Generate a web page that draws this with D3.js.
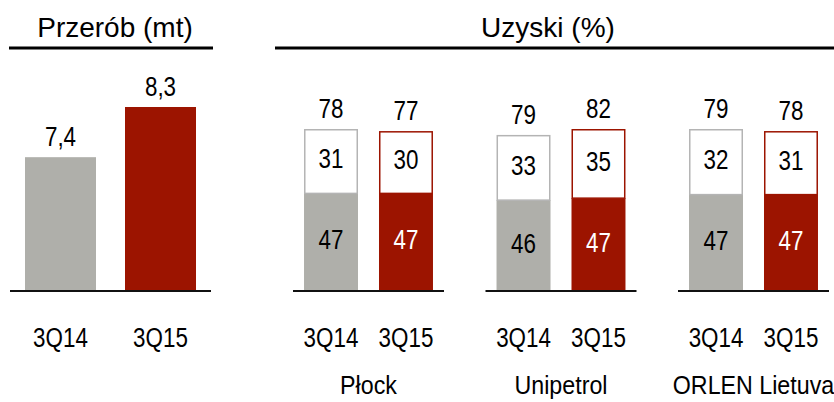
<!DOCTYPE html>
<html>
<head>
<meta charset="utf-8">
<script src="https://cdn.jsdelivr.net/npm/d3@7"></script>
<style>
  body { margin: 0; background: #fff; }
  svg { display: block; }
  text { font-family: "Liberation Sans", Arial, sans-serif; fill: #000; }
  .title { font-size: 28px; }
  .num { font-size: 28px; }
  .name { font-size: 25px; }
</style>
</head>
<body>
<div id="chart"></div>
<script>
// DATA
const periods = ["3Q14", "3Q15"];
const throughput = [7.4, 8.3];
const throughputLabels = ["7,4", "8,3"];
const refineries = ["Płock", "Unipetrol", "ORLEN Lietuva"];
const yieldLight = [[47, 47], [46, 47], [47, 47]];
const yieldOther = [[31, 30], [33, 35], [32, 31]];
const yieldTotal = [[78, 77], [79, 82], [79, 78]];

// COLOURS
const gray = "#afafaa";
const red = "#9c1400";
const grayEdge = "#b4b4b4";

const width = 834, height = 402;
const baseY = 291;
const narrow = 0.8;   // condensed look of the original font

const svg = d3.select("#chart").append("svg")
    .attr("width", width)
    .attr("height", height);

// text placed with a horizontal squeeze
function squeezed(sel, x, y, sx) {
    return sel.attr("text-anchor", "middle")
        .attr("transform", (d, i) => {
            const xx = typeof x === "function" ? x(d, i) : x;
            const yy = typeof y === "function" ? y(d, i) : y;
            return `translate(${xx},${yy}) scale(${sx},1)`;
        });
}

// ----- LEFT PANEL: PRZERÓB -----
svg.append("text").attr("class", "title")
    .attr("x", 115).attr("y", 37).attr("text-anchor", "middle")
    .text("Przerób (mt)");
svg.append("line").attr("x1", 9).attr("x2", 213).attr("y1", 48).attr("y2", 48)
    .attr("stroke", "#000").attr("stroke-width", 3);

const xL = d3.scaleBand().domain(periods).range([10, 211])
    .paddingInner(0.29).paddingOuter(0.15);
const yL = d3.scaleLinear().domain([5, 8.3]).range([baseY, 107]);

svg.selectAll("rect.left")
    .data(throughput)
    .join("rect")
    .attr("class", "left")
    .attr("x", (d, i) => xL(periods[i]))
    .attr("width", xL.bandwidth())
    .attr("y", d => yL(d))
    .attr("height", d => baseY - yL(d))
    .attr("fill", (d, i) => i === 0 ? gray : red);

squeezed(svg.selectAll("text.leftval")
    .data(throughput)
    .join("text")
    .attr("class", "leftval num")
    .text((d, i) => throughputLabels[i]),
    (d, i) => xL(periods[i]) + xL.bandwidth() / 2, d => yL(d) - 11, narrow);

svg.append("line").attr("x1", 10).attr("x2", 211).attr("y1", baseY).attr("y2", baseY)
    .attr("stroke", "#111").attr("stroke-width", 2);

squeezed(svg.selectAll("text.leftcat")
    .data(periods)
    .join("text")
    .attr("class", "leftcat num")
    .text(d => d),
    d => xL(d) + xL.bandwidth() / 2, 347, narrow);

// ----- RIGHT PANEL: UZYSKI -----
svg.append("text").attr("class", "title")
    .attr("x", 548).attr("y", 37).attr("text-anchor", "middle")
    .text("Uzyski (%)");
svg.append("line").attr("x1", 275).attr("x2", 834).attr("y1", 48).attr("y2", 48)
    .attr("stroke", "#000").attr("stroke-width", 3);

const xG = d3.scaleBand().domain(refineries).range([293, 829]).paddingInner(0.2156);
const xP = d3.scaleBand().domain(periods).range([0, xG.bandwidth()])
    .paddingInner(0.28).paddingOuter(0.147);

refineries.forEach((ref, g) => {
    // every refinery gets its own scale, tallest bar reaches the same height
    const y = d3.scaleLinear().domain([0, d3.max(yieldTotal[g])]).range([baseY, 129]);
    const grp = svg.append("g").attr("transform", `translate(${xG(ref)},0)`);

    const rows = periods.map((p, i) => ({
        p, i,
        base: yieldLight[g][i],
        other: yieldOther[g][i],
        total: yieldTotal[g][i]
    }));
    const cx = d => xP(d.p) + xP.bandwidth() / 2;

    // bottom segment
    grp.selectAll("rect.base")
        .data(rows)
        .join("rect")
        .attr("class", "base")
        .attr("x", d => xP(d.p))
        .attr("width", xP.bandwidth())
        .attr("y", d => y(d.base))
        .attr("height", d => baseY - y(d.base))
        .attr("fill", d => d.i === 0 ? gray : red);

    // top segment (white with outline)
    grp.selectAll("rect.top")
        .data(rows)
        .join("rect")
        .attr("class", "top")
        .attr("x", d => xP(d.p) + 0.75)
        .attr("width", xP.bandwidth() - 1.5)
        .attr("y", d => y(d.base + d.other) + 0.75)
        .attr("height", d => y(d.base) - y(d.base + d.other) - 0.75)
        .attr("fill", "#fff")
        .attr("stroke", d => d.i === 0 ? grayEdge : red)
        .attr("stroke-width", 1.5);

    // segment labels
    squeezed(grp.selectAll("text.baseval")
        .data(rows)
        .join("text")
        .attr("class", "baseval num")
        .style("fill", d => d.i === 0 ? "#000" : "#fff")
        .text(d => d.base),
        cx, d => (y(d.base) + baseY) / 2 + 7, narrow);

    squeezed(grp.selectAll("text.otherval")
        .data(rows)
        .join("text")
        .attr("class", "otherval num")
        .text(d => d.other),
        cx, d => (y(d.base) + y(d.base + d.other)) / 2 + 7, narrow);

    squeezed(grp.selectAll("text.totalval")
        .data(rows)
        .join("text")
        .attr("class", "totalval num")
        .text(d => d.total),
        cx, d => y(d.total) - 11, narrow);

    // baseline
    grp.append("line")
        .attr("x1", 0).attr("x2", xG.bandwidth())
        .attr("y1", baseY).attr("y2", baseY)
        .attr("stroke", "#111").attr("stroke-width", 2);

    // period + refinery labels
    squeezed(grp.selectAll("text.cat")
        .data(rows)
        .join("text")
        .attr("class", "cat num")
        .text(d => d.p),
        cx, 347, narrow);

    squeezed(grp.append("text")
        .attr("class", "name")
        .text(ref),
        xG.bandwidth() / 2, 394, 0.93);
});
</script>
</body>
</html>
